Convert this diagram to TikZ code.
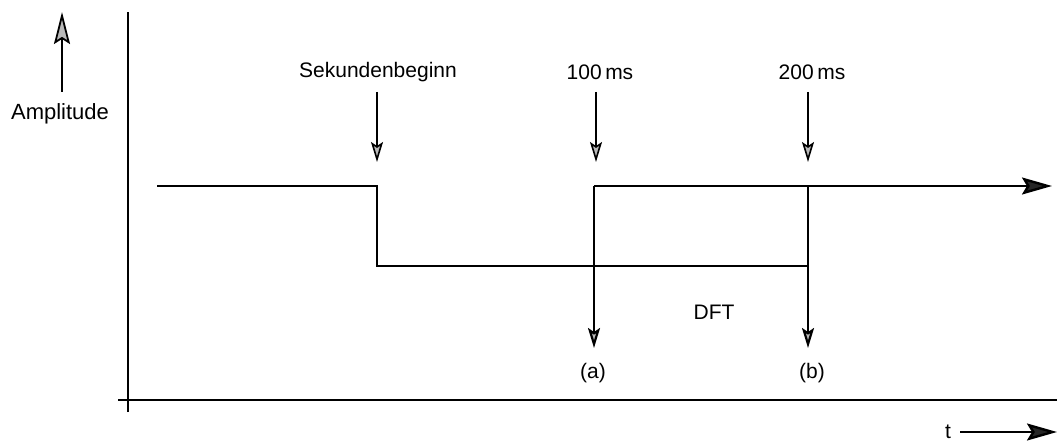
\documentclass[tikz,border=0pt]{standalone}
\usepackage{fontspec}
\setmainfont{Liberation Sans}
\usetikzlibrary{positioning,arrows.meta}
\tikzset{
  sm/.style={line width=1.6pt,-{Stealth[length=20pt,width=12pt,inset=4pt,fill=gray!55]}},
  big/.style={line width=2.4pt,-{Stealth[length=30pt,width=17pt,inset=5pt,fill=black!85]}},
  lbl/.style={font=\fontsize{21}{24}\selectfont,inner sep=1pt}
}
\begin{document}
\begin{tikzpicture}[x=1pt,y=-1pt]
\useasboundingbox (0,0) rectangle (1057,443);
% axes
\coordinate (yb) at (128,412);
\coordinate (yt) at (128,12);
\coordinate (xl) at (118,400);
\coordinate (xr) at (1057,400);
\draw[line width=2.8pt] (yb)--(yt);
\draw[line width=2.8pt] (xl)--(xr);
% amplitude
\node[lbl,font=\fontsize{22}{24}\selectfont] (amp) at (60,114) {Amplitude};
\coordinate (ampt) at (62,12);
\draw[line width=1.8pt,-{Stealth[length=32pt,width=16pt,inset=5pt,fill=gray!55]}] (ampt |- 0,92) -- (ampt);
% time
\node[lbl] (t) at (948,432) {t};
\coordinate (tt) at (1057,432);
\draw[big] ([xshift=8pt]t.east) -- (tt);
% signal
\coordinate (h0) at (157,186);
\coordinate (h1) at (377,186);
\coordinate (l0) at (377,266);
\coordinate (l1) at (808,266);
\coordinate (a0) at (594,186);
\coordinate (b0) at (808,186);
\coordinate (hr) at (1052,186);
\coordinate (a1) at (594,348);
\coordinate (b1) at (808,348);
\draw[line width=2.4pt] (h0) -- (h1) -- (l0) -- (l1);
\draw[big] (a0) -- (hr);
\draw[sm,line width=2.2pt] (a0) -- (a1);
\draw[sm,line width=2.2pt] (b0) -- (b1);
% markers
\node[lbl] (sek) at (378,72) {Sekundenbeginn};
\node[lbl] (m1) at (600,72) {100\,ms};
\node[lbl] (m2) at (812,72) {200\,ms};
\coordinate (s1) at (377,162);
\coordinate (s2) at (596,162);
\coordinate (s3) at (808,162);
\draw[sm] (s1 |- 0,92) -- (s1);
\draw[sm] (s2 |- 0,92) -- (s2);
\draw[sm] (s3 |- 0,92) -- (s3);
\node[lbl] (dft) at (714,312) {DFT};
\node[lbl] (a) at (593,373) {(a)};
\node[lbl] (b) at (812,373) {(b)};
\end{tikzpicture}
\end{document}
